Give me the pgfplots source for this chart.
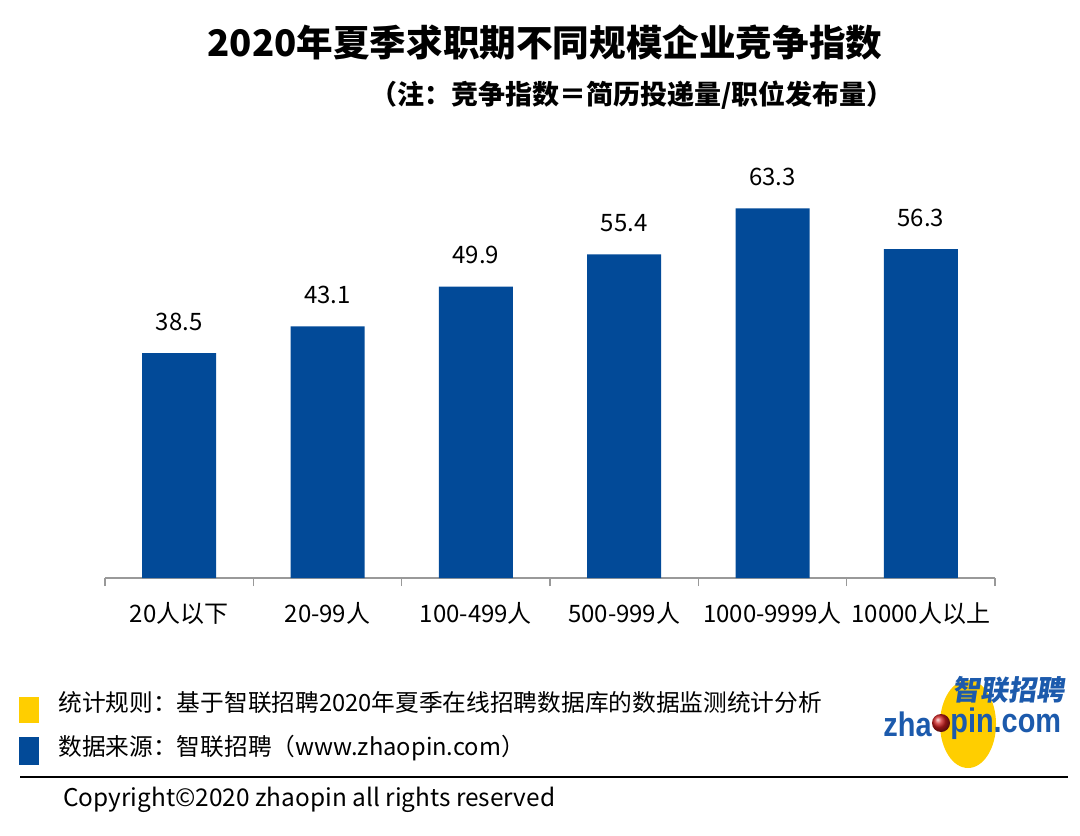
\documentclass[border=0pt]{standalone}
\usepackage{pgfplots}
\pgfplotsset{compat=1.18}
\usepackage{fontspec}
\setmainfont{Noto Sans CJK SC}
\newfontfamily\logofont{Liberation Sans}
\definecolor{barblue}{RGB}{2,74,152}
\definecolor{legyellow}{RGB}{255,206,0}
\definecolor{logoblue}{RGB}{28,90,172}
\definecolor{logored}{RGB}{205,30,30}
\begin{document}
\begin{tikzpicture}
\path (0,0) rectangle (540pt,417.5pt);
\node[font=\fontsize{18.3pt}{20pt}\selectfont\bfseries] at (272.5pt,396pt) {2020年夏季求职期不同规模企业竞争指数};
\node[font=\fontsize{13.5pt}{16pt}\selectfont\bfseries, anchor=east, inner sep=0pt] at (447pt,370pt) {（注：竞争指数＝简历投递量/职位发布量）};
\begin{axis}[
  at={(52.5pt,128.5pt)}, anchor=south west,
  scale only axis, width=445pt, height=204.4pt,
  xmin=-0.5, xmax=5.5, ymin=0, ymax=70,
  ybar, bar width=37pt,
  axis y line=none, axis x line*=bottom,
  axis line style={draw=gray!80, line width=0.7pt, -},
  xtick={0,...,5},
  xticklabels={20人以下,20-99人,100-499人,500-999人,1000-9999人,10000人以上},
  major tick length=0pt,
  minor xtick={-0.5,0.5,...,5.5}, minor tick length=4pt, tick align=outside,
  minor tick style={draw=gray!80, line width=0.7pt},
  xticklabel style={font=\fontsize{12pt}{14pt}\selectfont, yshift=-8.5pt},
  /pgf/number format/assume math mode=true,
  nodes near coords,
  nodes near coords style={font=\fontsize{12pt}{14pt}\selectfont, anchor=south, inner sep=0pt, yshift=11pt},
  clip=false,
]
\addplot[fill=barblue, draw=none] coordinates {(0,38.5) (1,43.1) (2,49.9) (3,55.4) (4,63.3) (5,56.3)};
\end{axis}
% legend squares
\fill[legyellow] (9.5pt,56pt) rectangle (19.5pt,69pt);
\fill[barblue] (9.5pt,35pt) rectangle (19.5pt,49pt);
\node[anchor=west, font=\fontsize{11.85pt}{14pt}\selectfont, inner sep=0pt] at (29pt,66pt) {统计规则：基于智联招聘2020年夏季在线招聘数据库的数据监测统计分析};
\node[anchor=west, font=\fontsize{11.85pt}{14pt}\selectfont, inner sep=0pt] at (29pt,43.5pt) {数据来源：智联招聘（www.zhaopin.com）};
\draw[line width=1pt] (10pt,29pt) -- (534pt,29pt);
\node[anchor=west, font=\fontsize{12.2pt}{14pt}\selectfont, inner sep=0pt] at (31.5pt,17.5pt) {Copyright©2020 zhaopin all rights reserved};
% logo
\fill[legyellow] (484pt,55.5pt) ellipse (14pt and 22pt);
\node[font=\fontsize{14pt}{16pt}\selectfont\bfseries, text=logoblue, xslant=0.15, inner sep=0pt] at (505pt,72.5pt) {智联招聘};
\node[font=\logofont\fontsize{17pt}{18pt}\selectfont\bfseries, text=logoblue, anchor=east, inner sep=0pt, xscale=0.85] at (466pt,55.5pt) {zha};
\shade[ball color=logored] (470.5pt,56pt) circle (4.5pt);
\node[font=\logofont\fontsize{17pt}{18pt}\selectfont\bfseries, text=logoblue, anchor=west, inner sep=0pt, xscale=0.85] at (475pt,55.5pt) {pin.com};
\end{tikzpicture}
\end{document}
